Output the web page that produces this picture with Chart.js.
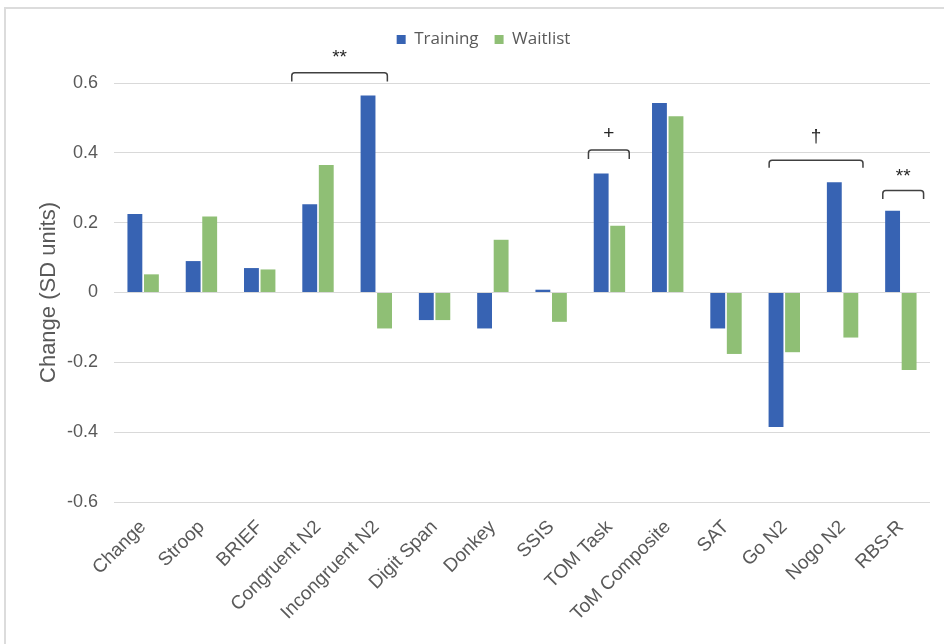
<!DOCTYPE html>
<html>
<head>
<meta charset="utf-8">
<script src="https://cdn.jsdelivr.net/npm/chart.js@4/dist/chart.umd.min.js"></script>
<style>
  html, body { margin: 0; padding: 0; background: #ffffff; width: 944px; height: 644px; overflow: hidden; }
  #frame { position: absolute; left: 4px; top: 7px; width: 1000px; height: 700px;
           border-left: 2px solid #DCDCDC; border-top: 2px solid #DCDCDC; }
  #wrap { position: absolute; left: 0; top: 0; width: 962px; height: 644px; }
</style>
</head>
<body>
<div id="frame"></div>
<div id="wrap"><canvas id="chart" width="962" height="644"></canvas></div>
<script>
// Outcome measures and mean change (SD units) for each group
const categories = ['Change', 'Stroop', 'BRIEF', 'Congruent N2', 'Incongruent N2', 'Digit Span',
  'Donkey', 'SSIS', 'TOM Task', 'ToM Composite', 'SAT', 'Go N2', 'Nogo N2', 'RBS-R'];
const seriesNames = ['Training', 'Waitlist'];
const training = [0.225, 0.090, 0.070, 0.253, 0.564, -0.079, -0.103, 0.008, 0.341, 0.543, -0.103, -0.385, 0.316, 0.234];
const waitlist = [0.052, 0.218, 0.066, 0.365, -0.103, -0.079, 0.151, -0.084, 0.191, 0.505, -0.176, -0.171, -0.129, -0.222];
const yTicks = [-0.6, -0.4, -0.2, 0, 0.2, 0.4, 0.6];
const yTickLabels = ['-0.6', '-0.4', '-0.2', '0', '0.2', '0.4', '0.6'];

// Significance brackets: spans in category units, heights in SD units
const brackets = [
  { from: 'Congruent N2', to: 'Incongruent N2', padLeft: 0.45, padRight: 0.19, top: 0.629, end: 0.604, mark: '**', markY: 0.657 },
  { from: 'TOM Task', to: 'TOM Task', padLeft: 0.36, padRight: 0.34, top: 0.408, end: 0.382, mark: '+', markY: 0.44 },
  { from: 'Go N2', to: 'Nogo N2', padLeft: 0.26, padRight: 0.35, top: 0.379, end: 0.357, mark: '\u2020', markY: 0.43 },
  { from: 'RBS-R', to: 'RBS-R', padLeft: 0.31, padRight: 0.39, top: 0.292, end: 0.268, mark: '**', markY: 0.316 }
];

const TEXT = '#595959';
const SANS = '"Liberation Sans", Arial, sans-serif';

const bracketPlugin = {
  id: 'sigBrackets',
  afterDatasetsDraw(chart) {
    const { ctx, scales: { x, y } } = chart;
    const band = x.getPixelForValue(1) - x.getPixelForValue(0);
    ctx.save();
    ctx.strokeStyle = '#404040';
    ctx.lineWidth = 1.5;
    ctx.lineJoin = 'round';
    ctx.fillStyle = '#262626';
    ctx.textAlign = 'center';
    ctx.textBaseline = 'alphabetic';
    ctx.font = '19px ' + SANS;
    brackets.forEach(b => {
      const x1 = x.getPixelForValue(categories.indexOf(b.from)) - b.padLeft * band;
      const x2 = x.getPixelForValue(categories.indexOf(b.to)) + b.padRight * band;
      const yTop = y.getPixelForValue(b.top);
      const yEnd = y.getPixelForValue(b.end);
      ctx.beginPath();
      ctx.moveTo(x1, yEnd);
      ctx.arcTo(x1, yTop, x2, yTop, 3);
      ctx.arcTo(x2, yTop, x2, yEnd, 3);
      ctx.lineTo(x2, yEnd);
      ctx.stroke();
      ctx.fillText(b.mark, (x1 + x2) / 2, y.getPixelForValue(b.markY));
    });
    ctx.restore();
  }
};

new Chart(document.getElementById('chart'), {
  type: 'bar',
  data: {
    labels: categories,
    datasets: [
      { label: seriesNames[0], data: training, backgroundColor: '#3763B3' },
      { label: seriesNames[1], data: waitlist, backgroundColor: '#8FBF75' }
    ]
  },
  options: {
    responsive: false,
    devicePixelRatio: 1,
    animation: false,
    categoryPercentage: 0.567,
    barPercentage: 0.9,
    layout: { padding: { left: 5, top: 15, right: 0, bottom: 0 } },
    plugins: {
      legend: {
        position: 'top',
        align: 'center',
        weight: 3000,
        labels: {
          boxWidth: 9, boxHeight: 9, padding: 16, color: TEXT,
          font: { family: '"Open Sans", sans-serif', size: 17 }
        }
      },
      subtitle: { display: true, text: '', font: { size: 10 }, padding: { top: 0, bottom: 13 } },
      tooltip: { enabled: false }
    },
    scales: {
      x: {
        grid: { display: false },
        border: { display: false },
        ticks: {
          autoSkip: false, maxRotation: 45, minRotation: 45, padding: 6,
          color: TEXT, font: { family: SANS, size: 19 }
        },
        afterFit(s) { s.height = 142; }
      },
      y: {
        min: -0.6, max: 0.6,
        afterBuildTicks(s) { s.ticks = yTicks.map(v => ({ value: v })); },
        grid: { color: '#D9D9D9', lineWidth: 1, drawTicks: false },
        border: { display: false },
        ticks: {
          padding: 16, color: TEXT, font: { family: SANS, size: 18 },
          callback: (v, i) => yTickLabels[i]
        },
        title: {
          display: true, text: 'Change (SD units)', color: TEXT,
          font: { family: SANS, size: 22 }, padding: { top: 31, bottom: 0 }
        },
        afterFit(s) { s.width = 109; }
      },
      yRight: {
        position: 'right',
        grid: { display: false },
        border: { display: false },
        ticks: { display: false },
        afterFit(s) { s.width = 32; }
      }
    }
  },
  plugins: [bracketPlugin]
});
</script>
</body>
</html>
